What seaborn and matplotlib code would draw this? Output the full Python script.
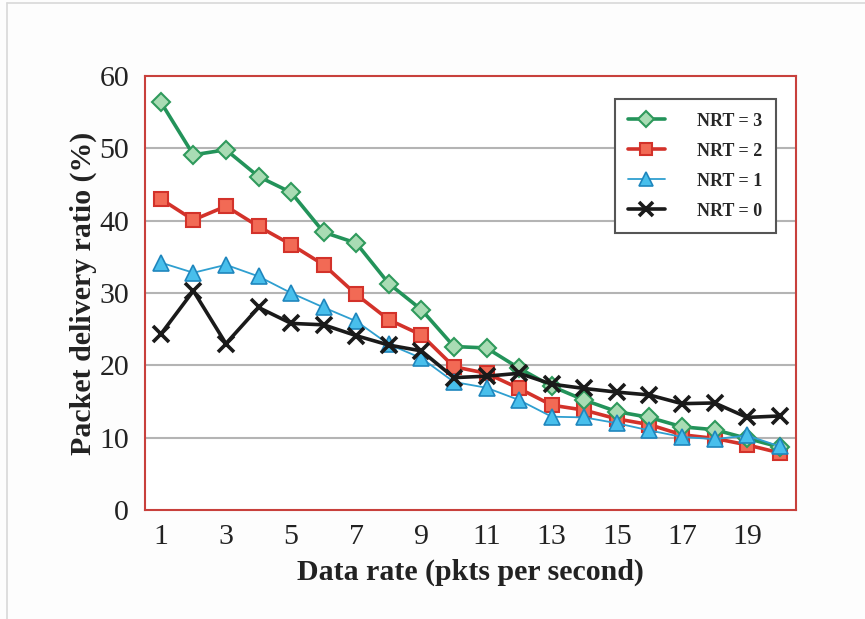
import matplotlib
matplotlib.use("Agg")
import matplotlib.pyplot as plt
import seaborn as sns
import pandas as pd
from matplotlib.lines import Line2D

# Packet delivery ratio (%) per data rate, for each number of retransmissions
rates = list(range(1, 21))
nrt3 = [56.4, 49.1, 49.8, 46.1, 43.9, 38.4, 36.9, 31.3, 27.7, 22.6,
        22.4, 19.6, 17.1, 15.2, 13.6, 12.8, 11.5, 11.1, 9.9, 8.7]
nrt2 = [43.0, 40.1, 42.0, 39.2, 36.7, 33.9, 29.8, 26.3, 24.2, 19.8,
        18.9, 16.8, 14.5, 13.8, 12.6, 11.8, 10.4, 9.9, 9.0, 7.9]
nrt1 = [34.2, 32.8, 33.9, 32.3, 30.0, 28.0, 26.1, 22.9, 21.0, 17.7,
        16.9, 15.2, 12.9, 12.8, 12.0, 11.0, 10.1, 9.8, 10.3, 8.8]
nrt0 = [24.3, 30.3, 23.0, 28.0, 25.8, 25.6, 24.1, 22.8, 22.0, 18.3,
        18.5, 18.9, 17.4, 16.8, 16.3, 15.9, 14.7, 14.8, 12.8, 13.0]
series_labels = ["NRT = 3", "NRT = 2", "NRT = 1", "NRT = 0"]
y_ticks = [0, 10, 20, 30, 40, 50, 60]
x_tick_labels = [1, 3, 5, 7, 9, 11, 13, 15, 17, 19]

df = pd.DataFrame({
    "rate": rates * 4,
    "pdr": nrt3 + nrt2 + nrt1 + nrt0,
    "nrt": sum([[lab] * len(rates) for lab in series_labels], []),
})

sns.set_theme(style="white")
plt.rcParams["font.family"] = ["Liberation Serif", "DejaVu Serif"]

fig = plt.figure(figsize=(8.65, 6.19), dpi=100)
fig.patch.set_facecolor("#fdfdfd")
# light frame around the figure
fig.add_artist(Line2D([7 / 865, 7 / 865], [0, 1 - 3 / 619], transform=fig.transFigure,
                      color="#d8d8d8", lw=1.2))
fig.add_artist(Line2D([7 / 865, 1], [1 - 3 / 619, 1 - 3 / 619], transform=fig.transFigure,
                      color="#d8d8d8", lw=1.2))

ax = fig.add_axes([144.5 / 865, 1 - 510 / 619, (796 - 144.5) / 865, (510 - 76) / 619])
ax.set_facecolor("white")

styles = {
    "NRT = 3": dict(color="#23935a", lw=2.6, marker="D", ms=9.5,
                    mfc="#a9dcb4", mec="#2f9a5c", mew=1.5),
    "NRT = 2": dict(color="#d3322a", lw=2.6, marker="s", ms=10,
                    mfc="#f26a55", mec="#d3322a", mew=1.5),
    "NRT = 1": dict(color="#2f9fd0", lw=1.3, marker="^", ms=11,
                    mfc="#48bfec", mec="#1f86bd", mew=1.2),
    "NRT = 0": dict(color="#1a1a1a", lw=2.6, marker="x", ms=11,
                    mec="#1a1a1a", mew=2.6),
}

for lab in ["NRT = 2", "NRT = 3", "NRT = 1", "NRT = 0"]:
    st = styles[lab]
    sub = df[df["nrt"] == lab]
    sns.lineplot(data=sub, x="rate", y="pdr", ax=ax, color=st["color"], lw=st["lw"],
                 marker=st["marker"], markersize=st["ms"], markerfacecolor=st.get("mfc", st["color"]),
                 markeredgecolor=st["mec"], markeredgewidth=st["mew"], label=lab,
                 legend=False, zorder=3)

ax.set_xlim(0.5, 20.5)
ax.set_ylim(0, 60)

# gridlines
for v in y_ticks[1:-1]:
    ax.axhline(v, color="#b4b4b4", lw=1.5, zorder=1)

ax.set_yticks(y_ticks)
ax.set_yticklabels([str(v) for v in y_ticks], fontsize=21.5, color="#222222")
ax.set_xticks(x_tick_labels)
ax.set_xticklabels([str(v) for v in x_tick_labels], fontsize=21.5, color="#222222")
ax.set_xticks([r + 0.5 for r in rates[:-1]], minor=True)
ax.tick_params(axis="x", which="major", length=0, pad=10)
ax.tick_params(axis="x", which="minor", direction="in", length=6, width=1.1, color="#333333")
ax.tick_params(axis="y", which="major", direction="in", length=8, width=1.4, color="#333333", pad=11)

for sp in ax.spines.values():
    sp.set_visible(True)
    sp.set_color("#c8403c")
    sp.set_linewidth(1.5)

ax.set_xlabel("Data rate (pkts per second)", fontsize=21.5, fontweight="bold", color="#222222", labelpad=6)
ax.set_ylabel("Packet delivery ratio (%)", fontsize=21.5, fontweight="bold", color="#222222", labelpad=2)

handles = []
for lab in series_labels:
    st = styles[lab]
    handles.append(Line2D([0], [0], color=st["color"], lw=st["lw"], marker=st["marker"],
                          markersize=st["ms"] - 1.5, markerfacecolor=st.get("mfc", st["color"]),
                          markeredgecolor=st["mec"], markeredgewidth=st["mew"]))
leg = ax.legend(handles, series_labels, loc="upper right", bbox_to_anchor=(0.969, 0.947),
                borderaxespad=0, frameon=True, fancybox=False, handlelength=2.0,
                handletextpad=1.8, borderpad=0.75, labelspacing=0.72,
                prop={"family": "Liberation Serif", "weight": "bold", "size": 13})
leg.get_frame().set_edgecolor("#555555")
leg.get_frame().set_linewidth(1.5)
leg.get_frame().set_facecolor("white")
leg.get_frame().set_alpha(1)

fig.savefig("out.png", dpi=100, facecolor=fig.get_facecolor())
